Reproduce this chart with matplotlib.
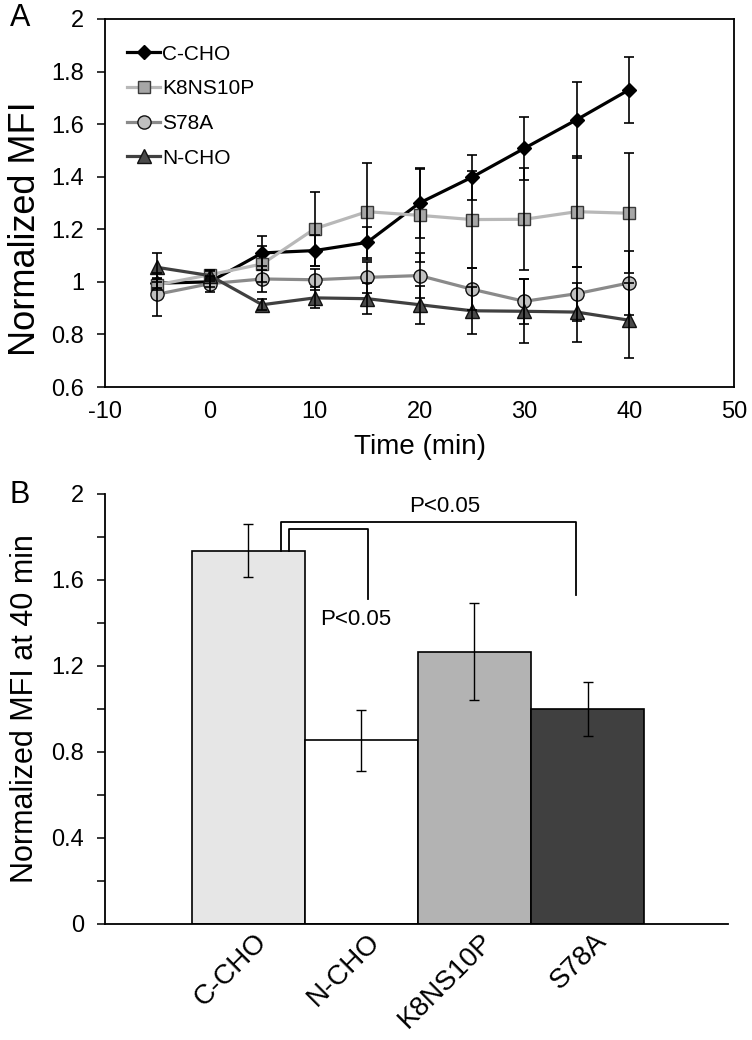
import numpy as np
import matplotlib
matplotlib.use("Agg")
import matplotlib.pyplot as plt
from matplotlib.ticker import MultipleLocator, FuncFormatter

plt.rcParams['font.family'] = ['Liberation Sans', 'DejaVu Sans']
plt.rcParams['axes.unicode_minus'] = False

# time course data (panel A)
times = [-5, 0, 5, 10, 15, 20, 25, 30, 35, 40]
c_cho = [0.995, 1.0, 1.110, 1.119, 1.150, 1.300, 1.398, 1.508, 1.617, 1.731]
c_cho_err = [0.02, 0.02, 0.063, 0.06, 0.06, 0.132, 0.085, 0.12, 0.145, 0.126]
k8ns10p = [0.989, 1.027, 1.068, 1.202, 1.267, 1.253, 1.237, 1.238, 1.267, 1.261]
k8ns10p_err = [0.02, 0.015, 0.07, 0.14, 0.185, 0.176, 0.186, 0.194, 0.21, 0.228]
s78a = [0.953, 0.993, 1.011, 1.008, 1.017, 1.024, 0.972, 0.926, 0.955, 0.996]
s78a_err = [0.082, 0.03, 0.05, 0.04, 0.06, 0.085, 0.08, 0.085, 0.103, 0.122]
n_cho = [1.055, 1.024, 0.913, 0.939, 0.936, 0.913, 0.890, 0.888, 0.885, 0.854]
n_cho_err = [0.055, 0.02, 0.02, 0.04, 0.06, 0.073, 0.09, 0.122, 0.112, 0.142]

# bar data at 40 min (panel B)
bar_names = ['C-CHO', 'N-CHO', 'K8NS10P', 'S78A']
bar_vals = [1.736, 0.854, 1.267, 1.0]
bar_err = [0.124, 0.142, 0.227, 0.124]
bar_colors = ['#e6e6e6', '#ffffff', '#b3b3b3', '#404040']

fig = plt.figure(figsize=(7.52, 10.4), dpi=100)

############ panel A ############
ax = fig.add_axes([105/752, 1-387/1040, 629/752, 368/1040])

series = [
    ('C-CHO', c_cho, c_cho_err, dict(color='black', marker='D', mfc='black', mec='black', ms=7.5)),
    ('K8NS10P', k8ns10p, k8ns10p_err, dict(color='#b8b8b8', marker='s', mfc='#a6a6a6', mec='#3a3a3a', ms=9)),
    ('S78A', s78a, s78a_err, dict(color='#8a8a8a', marker='o', mfc='#c0c0c0', mec='#111111', ms=9.5)),
    ('N-CHO', n_cho, n_cho_err, dict(color='#404040', marker='^', mfc='#4a4a4a', mec='#111111', ms=10)),
]
for name, vals, err, style in series:
    ax.errorbar(times, vals, yerr=err, fmt='none', ecolor='black', elinewidth=1.2,
                capsize=3.3, capthick=1.2, zorder=3)
for name, vals, err, style in series:
    ax.plot(times, vals, label=name, lw=2.3, mew=1.0, zorder=2, **style)

ax.set_xlim(-10, 50)
ax.set_ylim(0.6, 2)
ax.set_xticks(range(-10, 51, 10))
ax.yaxis.set_major_locator(MultipleLocator(0.2))
ax.yaxis.set_major_formatter(FuncFormatter(lambda v, p: f"{v:g}"))
ax.tick_params(axis='y', direction='out', length=6, width=1.1, labelsize=17, pad=9)
ax.tick_params(axis='x', length=0, labelsize=17, pad=10)
for s in ax.spines.values():
    s.set_linewidth(1.3)
ax.set_xlabel('Time (min)', fontsize=20, labelpad=8)
ax.set_ylabel('Normalized MFI', fontsize=26, labelpad=6, y=0.43)
ax.legend(loc='upper left', bbox_to_anchor=(0.035, 0.93), frameon=False, fontsize=15,
          handlelength=1.6, handletextpad=0.1, labelspacing=0.75, borderpad=0, borderaxespad=0)

############ panel B ############
bx = fig.add_axes([105/752, 1-924/1040, 623/752, 430/1040])
pos = np.arange(len(bar_names))
bx.bar(pos, bar_vals, width=1.0, color=bar_colors, edgecolor='black', linewidth=1.2, zorder=2)
bx.errorbar(pos, bar_vals, yerr=bar_err, fmt='none', ecolor='black', elinewidth=1.0,
            capsize=3.4, capthick=1.0, zorder=3)
bx.set_xlim(-1.265, 4.24)
bx.set_ylim(0, 2)
bx.yaxis.set_major_locator(MultipleLocator(0.4))
bx.yaxis.set_minor_locator(MultipleLocator(0.2))
bx.yaxis.set_major_formatter(FuncFormatter(lambda v, p: f"{v:g}"))
bx.tick_params(axis='y', which='both', direction='out', length=6, width=1.1, labelsize=17, pad=9)
bx.set_xticks(pos + 0.05)
bx.set_xticklabels(bar_names, rotation=45, ha='right', va='top', rotation_mode='anchor', fontsize=20)
bx.tick_params(axis='x', length=0, pad=3)
bx.spines['top'].set_visible(False)
bx.spines['right'].set_visible(False)
bx.spines['left'].set_linewidth(1.3)
bx.spines['bottom'].set_linewidth(1.3)
bx.set_ylabel('Normalized MFI at 40 min', fontsize=22, labelpad=8)

# significance brackets
bx.plot([0.289, 0.289, 2.90, 2.90], [bar_vals[0], 1.871, 1.871, 1.532], color='black', lw=1.3, zorder=4)
bx.plot([0.365, 0.365, 1.056, 1.056], [bar_vals[0], 1.835, 1.835, 1.511], color='black', lw=1.3, zorder=4)
bx.text(1.74, 1.94, 'P<0.05', fontsize=16, ha='center', va='center')
bx.text(0.947, 1.416, 'P<0.05', fontsize=16, ha='center', va='center')

fig.text(0.013, 0.997, 'A', fontsize=22, va='top', ha='left')
fig.text(0.013, 0.538, 'B', fontsize=22, va='top', ha='left')

fig.savefig('out.png', dpi=100)
